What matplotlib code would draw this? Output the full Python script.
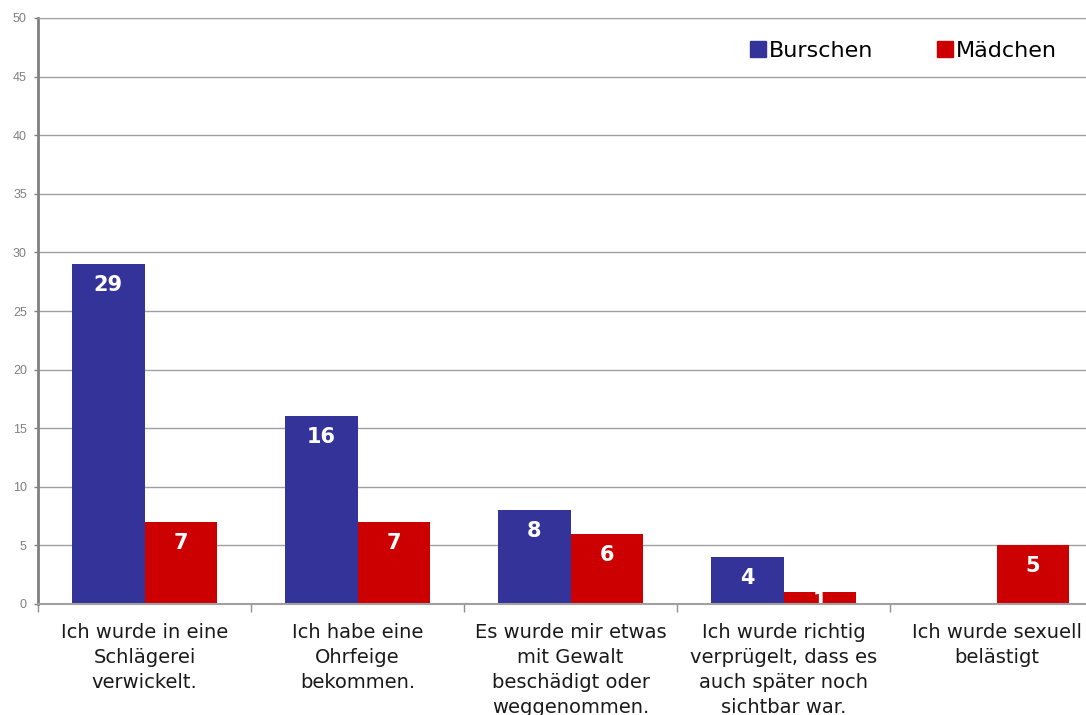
import numpy as np
from matplotlib import pyplot as plt
from matplotlib.lines import Line2D

plt.rcParams['font.family'] = ['DejaVu Sans']

categories = [
    'Ich wurde in eine\nSchlägerei\nverwickelt.',
    'Ich habe eine\nOhrfeige\nbekommen.',
    'Es wurde mir etwas\nmit Gewalt\nbeschädigt oder\nweggenommen.',
    'Ich wurde richtig\nverprügelt, dass es\nauch später noch\nsichtbar war.',
    'Ich wurde sexuell\nbelästigt',
]
burschen = [29, 16, 8, 4, 0]
maedchen = [7, 7, 6, 1, 5]
series_names = ['Burschen', 'Mädchen']
colors = ['#333399', '#cc0000']

fig = plt.figure(figsize=(10.86, 7.15), dpi=100)
ax = fig.add_axes([38 / 1086, 1 - 604 / 715, 1065 / 1086, 586 / 715])

x = np.arange(len(categories))
w = 0.34
for vals, off, col in zip([burschen, maedchen], [-w / 2, w / 2], colors):
    bars = ax.bar(x + off, vals, w, color=col, zorder=3)
    for b, v in zip(bars, vals):
        if v == 0:
            continue
        # short bars: label sits just under the top and gets cut by the axis
        dy = -21 if v >= 2 else -9
        t = ax.annotate(str(v), (b.get_x() + b.get_width() / 2, v),
                        xytext=(0, dy), textcoords='offset pixels',
                        ha='center', va='center', color='white',
                        fontsize=15, fontweight='bold',
                        zorder=4, annotation_clip=False)
        t.set_clip_on(True)
        t.set_clip_box(ax.bbox)

ax.set_xlim(-0.5, len(categories) - 0.5)
ax.set_ylim(0, 50)
ax.set_yticks(range(0, 51, 5))
ax.grid(axis='y', color='#a0a0a0', linewidth=1, zorder=0)
ax.tick_params(axis='y', length=3, colors='#808080', labelsize=9, width=1, pad=5)
for lab in ax.get_yticklabels():
    lab.set_family('Liberation Sans')

ax.set_xticks(x)
ax.set_xticklabels(categories, fontsize=14, linespacing=1.4,
                   va='top', color='#1a1a1a')
ax.tick_params(axis='x', length=0, pad=14)
ax.set_xticks(np.arange(-0.5, len(categories) - 0.5, 1), minor=True)
ax.tick_params(axis='x', which='minor', length=6, color='#909090', width=1)

ax.spines['right'].set_visible(False)
ax.spines['top'].set_color('#a0a0a0')
ax.spines['left'].set_color('#808080')
ax.spines['left'].set_linewidth(2)
ax.spines['bottom'].set_color('#a0a0a0')
ax.spines['bottom'].set_linewidth(1.5)
ax.spines['bottom'].set_zorder(5)

handles = [Line2D([], [], marker='s', linestyle='none', markersize=11, color=c)
           for c in colors]
ax.legend(handles, series_names, ncol=2, frameon=False, fontsize=16,
          loc='upper left', bbox_to_anchor=(689 / 1065, 0.995),
          handletextpad=0.0, columnspacing=2.71, handlelength=1.0)

fig.savefig('out.png', dpi=100)
